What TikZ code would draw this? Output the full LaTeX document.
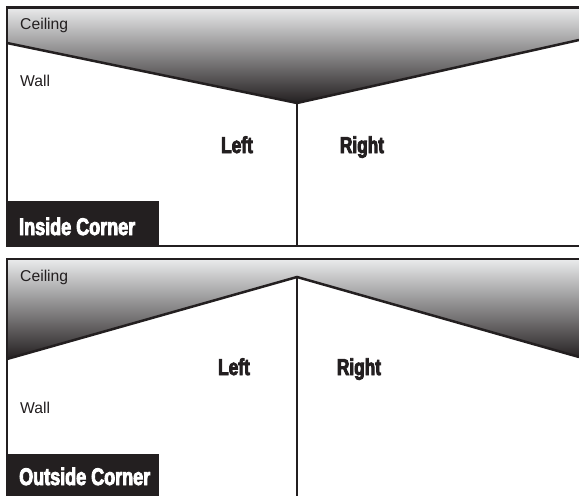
\documentclass[tikz,border=0pt]{standalone}
\usepackage{fontspec}
\setmainfont{Liberation Sans}
\newfontfamily\heavyfont[FakeStretch=0.75,FakeBold=3.6]{Liberation Sans Bold}
\usepackage{tikz}
\definecolor{ink}{HTML}{231F20}
\definecolor{pale}{HTML}{E8E9EA}
\tikzset{
  ceil/.style={top color=pale,bottom color=ink,draw=none},
  wline/.style={draw=ink,line width=2.5pt,line join=miter},
  fline/.style={draw=ink,line width=2.8pt},
  small/.style={font=\fontsize{15.7}{17}\selectfont,text=ink,inner sep=0pt,anchor=base west},
  side/.style={font=\heavyfont\fontsize{23}{25}\selectfont,text=ink,inner sep=0pt,anchor=base},
  tag/.style={fill=ink,minimum width=152pt,inner sep=0pt,anchor=north west},
  tagtext/.style={font=\heavyfont\fontsize{24}{26}\selectfont,text=white,inner sep=0pt,anchor=base west}
}
\begin{document}
\begin{tikzpicture}[x=1pt,y=-1pt]
  \useasboundingbox (0,0) rectangle (579,496);
  \fill[white] (0,0) rectangle (579,496);
  % inside corner
  \coordinate (ia) at (7,43); \coordinate (ib) at (297,103); \coordinate (ic) at (579,40);
  \fill[ceil] (7,8) -- (579,8) -- (ic) -- (ib) -- (ia) -- cycle;
  \draw[wline] (ia) -- (ib) -- (ic);
  \draw[wline] (ib) -- (297,246);
  \node[tag,minimum height=45pt] (itag) at (7,201) {};
  \draw[fline] (579,7.5) -- (7,7.5) -- (7,246) -- (579,246);
  \node[small] (iceil) at (20,29) {Ceiling};
  \node[small] (iwall) at (20,86) {Wall};
  \node[side] (ileft) at (237,153) {Left};
  \node[side] (iright) at (362,153) {Right};
  \node[tagtext] (iname) at (19,235) {Inside Corner};
  % outside corner
  \coordinate (oa) at (7,359); \coordinate (ob) at (297,277); \coordinate (oc) at (579,357);
  \fill[ceil] (7,260) -- (579,260) -- (oc) -- (ob) -- (oa) -- cycle;
  \draw[wline] (oa) -- (ob) -- (oc);
  \draw[wline] (ob) -- (297,496);
  \node[tag,minimum height=42pt] (otag) at (7,454) {};
  \draw[fline] (579,259) -- (7,259) -- (7,496);
  \node[small] (oceil) at (20,281) {Ceiling};
  \node[small] (owall) at (20,413) {Wall};
  \node[side] (oleft) at (234,375) {Left};
  \node[side] (oright) at (359,375) {Right};
  \node[tagtext] (oname) at (19,485) {Outside Corner};
\end{tikzpicture}
\end{document}
